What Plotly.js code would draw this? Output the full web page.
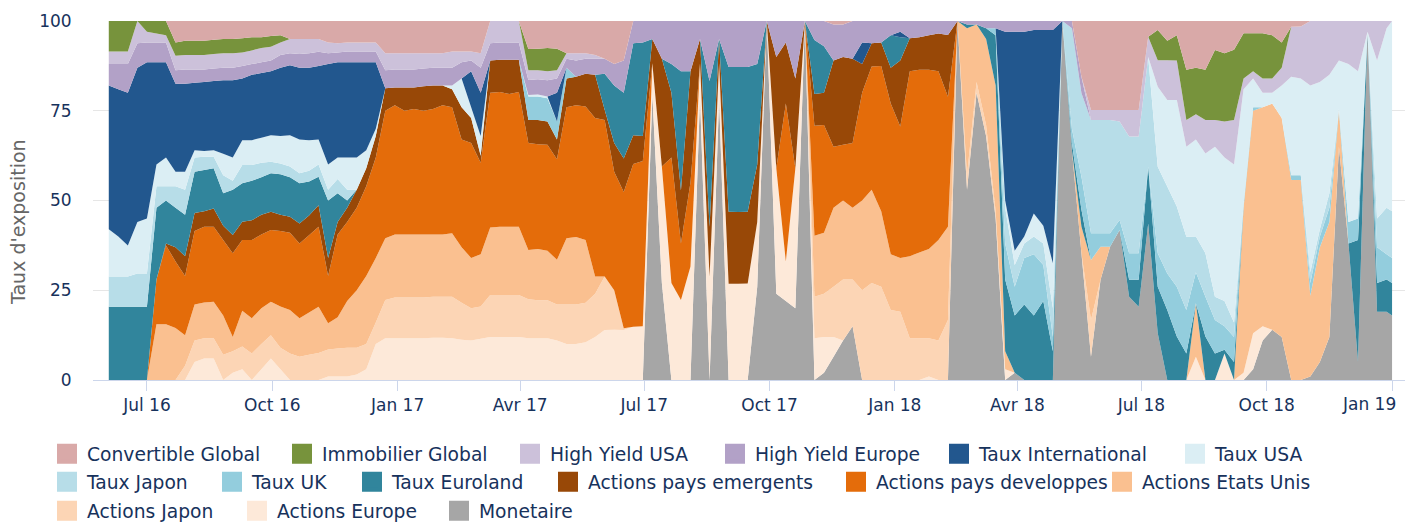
<!DOCTYPE html>
<html><head><meta charset="utf-8">
<script src="https://cdn.plot.ly/plotly-3.0.1.min.js"></script>
<style>html,body{margin:0;padding:0;background:#fff}#chart{width:1405px;height:522px}</style>
</head><body><div id="chart"></div>
<script>
const dates = ['2016-06-03','2016-06-10','2016-06-17','2016-06-24','2016-07-01','2016-07-08','2016-07-15','2016-07-22','2016-07-29','2016-08-05','2016-08-12','2016-08-19','2016-08-26','2016-09-02','2016-09-09','2016-09-16','2016-09-23','2016-09-30','2016-10-07','2016-10-14','2016-10-21','2016-10-28','2016-11-04','2016-11-11','2016-11-18','2016-11-25','2016-12-02','2016-12-09','2016-12-16','2016-12-23','2016-12-30',
'2017-01-06','2017-01-13','2017-01-20','2017-01-27','2017-02-03','2017-02-10','2017-02-17','2017-02-24','2017-03-03','2017-03-10','2017-03-17','2017-03-24','2017-03-31','2017-04-07','2017-04-14','2017-04-21','2017-04-28','2017-05-05','2017-05-12','2017-05-19','2017-05-26','2017-06-02','2017-06-09','2017-06-16','2017-06-23','2017-06-30','2017-07-07','2017-07-14','2017-07-21','2017-07-28','2017-08-04','2017-08-11','2017-08-18','2017-08-25','2017-09-01','2017-09-08','2017-09-15','2017-09-22','2017-09-29','2017-10-06','2017-10-13','2017-10-20','2017-10-27','2017-11-03','2017-11-10','2017-11-17','2017-11-24','2017-12-01','2017-12-08','2017-12-15','2017-12-22','2017-12-29',
'2018-01-05','2018-01-12','2018-01-19','2018-01-26','2018-02-02','2018-02-09','2018-02-16','2018-02-23','2018-03-02','2018-03-09','2018-03-16','2018-03-23','2018-03-30','2018-04-06','2018-04-13','2018-04-20','2018-04-27','2018-05-04','2018-05-11','2018-05-18','2018-05-25','2018-06-01','2018-06-08','2018-06-15','2018-06-22','2018-06-29','2018-07-06','2018-07-13','2018-07-20','2018-07-27','2018-08-03','2018-08-10','2018-08-17','2018-08-24','2018-08-31','2018-09-07','2018-09-14','2018-09-21','2018-09-28','2018-10-05','2018-10-12','2018-10-19','2018-10-26','2018-11-02','2018-11-09','2018-11-16','2018-11-23','2018-11-30','2018-12-07','2018-12-14','2018-12-21','2018-12-28','2019-01-01'];

const monetaire = [
0,0,0,0,0,0,0,0,0,0, 0,0,0,0,0,0,0,0,0,0, 0,0,0,0,0,0,0,0,0,0, 0,0,0,0,0,0,0,0,0,0,
0,0,0,0,0,0,0,0,0,0, 0,0,0,0,0,0,0,79.4,27,0, 0,0,79,0,78.5,0,0,0,26,100, 24,22,20,100,0,2,6.5,11,15,0,
0,0,0,0,0,0,0,0,0,100, 53,80,68,45,0,2,0,0,0,0, 100,64,35.3,6.5,27.9,37.1,41.8,23.2,20.4,43.6, 13,0,0,0,0,0,0,0,0,0,
3,11,14,12,0,0,1,5,12,65, 38,5,97,19,19,18];
const actionsEurope = [
0,0,0,0,0,0,0,0,0,5, 6,6,0,2,3,0,3,6,3,0, 0,0,0,1,1,1,1.5,3,10,11.6, 11.6,11.6,11.6,11.6,11.8,11.8,11.6,11.2,11,11.5,
12,12,12,12,11.6,11.6,11.6,11,10,10, 10.5,12,13.9,14,13.9,14.8,15,8.8,32.5,27, 22.3,31.6,9.2,28.8,9.7,26.8,26.8,26.9,18,0, 35,11,39,0,11.6,10,5.5,0,0,0,
0,0,0,0,0,0,1,0,0,0, 0,0,0,0,3,0,0,0,0,0, 0,0,0,0,0,0,0,0,0,0, 0,0,0,0,6.5,0,0,7.4,0,2,
10,4,0,0,0,0,0,0,0,0, 0,0,0,0,0,0];
const actionsJapon = [
0,0,0,0,0,0,0,0,4,6, 5.6,5.6,7,6,6.3,7.4,7,6.5,6,7.4, 6.5,7,7.5,7.5,7.8,8,7.5,7,6,10.7, 11.4,11.4,11.4,11.4,11.4,11.4,11.6,10.3,9,9,
11.7,11.7,11.7,11.7,10.9,10.6,10.6,10,11,11, 11,12,14.9,11,0.5,0,0,0,0,0, 0,0,0,0,0,0,0,0,0,0, 0,0,0,0,11.6,12,14,17,13,25,
27,26,19.5,19,11.6,11.6,10.6,11,16.7,0, 4,3,3,2,0,0,0,0,0,0, 0,0,0,10.2,0,0,0,0,0,0, 0,0,0,0,0,0,0,0,0,0,
0,0,0,0,0,0,0,0,0,0, 0,0,0,0,0,0];
const actionsEtatsUnis = [
0,0,0,0,0,15.5,15.5,14.5,8.5,10, 10,10.2,11,4,10,9.8,10,9.3,11.5,12.1, 10.7,11.8,12.9,7.3,8.7,13,16,19,18,17.2, 17.5,17.5,17.5,17.5,17.3,17.3,17.7,15.5,14,14.5,
18.8,19,19,19,13.7,14.3,13.8,12.5,18.5,18.8, 17.5,4.8,0,0,0,0,0,0,0,0, 0,0,0,0,0,0,0,0,0,0, 0,0,0,0,17,17,22,22,20,25,
26,21,15.5,15,22.9,23.9,24.9,28,26,0, 41,16,24,35,5,0,0,0,0,0, 0,0,7.4,16.7,9.2,0,0,0,0,0, 0,0,0,0,14.9,0,0,0,0,46,
62,61,63,61,55.7,55.7,22.5,32,32,10, 0,0,0,0,0,0];
const actionsPaysDeveloppes = [
0,0,0,0,0,12.5,22,18.5,16.5,20.5, 21.1,20.9,21,23.3,19.7,21.8,20.5,20,21,21.5, 20.8,21.5,22.3,13.2,23,22,23,25,28,35.5, 36,34.5,35,34.5,35,36,35.1,30,32,25.5,
37.5,37.5,37,37.5,29.8,29.2,29.5,28,36.5,36.7, 37.2,44.2,43.6,33,38,45.4,46,0,0,35, 15.7,23.4,0,0,0,0,0,0,0,0, 0,44,0,0,30.6,30,17,15.5,18,30,
34.3,40.5,42,36.6,51.5,50.9,49.9,47,36.2,0, 0,0,0,0,0,0,0,0,0,0, 0,0,0,0,0,0,0,0,0,0, 0,0,0,0,0,0,0,0,0,0,
0,0,0,0,0,0,0,0,0,0, 0,0,0,0,0,0];
const actionsPaysEmergents = [
0,0,0,0,0,0,0.5,4,5.5,5, 4.3,5.1,4,5.1,5.1,5.5,5.5,5.1,4.5,4.5, 5.6,5.5,6,5,3.5,4,5,5,6,6.3, 5,6.5,6,6.8,6.5,5.5,5,9,7,2,
9,9,9.5,9,6.4,6.7,6.5,5.5,8,8, 9.1,12,2.9,8,9.3,8,7,6.8,30,18, 14.8,31,6.8,13.9,6.8,20.1,20,20,16,0, 31,17,25,0,8.9,9,24,24.5,23.5,8,
6.5,6.5,10,18.4,9.2,9.1,9.6,10.5,17.2,0, 0,0,0,0,0,0,0,0,0,0, 0,0,0,0,0,0,0,0,0,0, 0,0,0,0,0,0,0,0,0,0,
0,0,0,0,0,0,0,0,0,0, 0,0,0,0,0,0];
const tauxEuroland = [
20.4,20.4,20.4,20.4,20.4,20,12,11,11.5,11.5, 11.5,11.2,9,12.6,10.7,11,10.5,10.7,11.3,11, 11.2,9.5,7.9,16,8,2,0,0,0,0, 0,0,0,0,0,0,0,0,0,0,
0,0,0,0,0,0,0,0,0,0, 0,0,10,16,18.3,25.6,26,0,0,8, 33.2,0,0,40.6,0,40.3,40.4,40.3,28,0, 0,0,0,0,15,13,0,0,0,0,
0,0,9,6.5,0,0,0,0,0,0, 1,0,3,14,20,16,21,18,22,8, 0,2,4.7,0,0,0,0,4.7,7.5,15.8, 13,19.5,12.1,7.4,0,12.1,7.4,1,5,0,
0,0,0,0,0,0,0,0,0,0, 0,34,0,8,9,9];
const tauxUK = [
0,0,0,0,0,0,0,0,0,0, 0,0,0,0,0,0,0,0,0,0, 0,0,0,0,0,0,0,0,0,0, 0,0,0,0,0,0,0,0,0,0,
0,0,0,0,6.6,6.6,6.5,5,3,0, 0,0,0,0,0,0,0,0,0,0, 0,0,0,0,0,0,0,0,0,0, 0,0,0,0,0,0,0,0,0,0,
0,0,0,0,0,0,0,0,0,0, 0,0,0,2,10,8,13,17,10,4, 0,4,9.2,7.5,3.8,3.8,2.8,7.4,7.4,0, 9.3,10.2,13.9,12.1,8.6,11.1,9.3,6.6,7,1,
1,0,0,0,1.3,1.3,3.5,3,4,0.5, 6,6,0,10,7,7];
const tauxJapon = [
8.4,8.4,8.4,9.3,9.3,6,4,6,7,4, 3.7,3.2,5,2.5,5.1,4.4,4,3.2,3,3, 2.8,3,3.4,3,4,3,0,0,0,0, 0,0,0,0,0,0,0,0,0,0,
0,0,0,0,0,0,0,0,0,0, 0,0,0,0,0,0,0,0,0,0, 0,0,0,0,0,0,0,0,0,0, 0,0,0,0,0,0,0,0,0,0,
0,0,0,0,0,0,0,0,0,0, 0,0,0,0,10,6,4,5,6,8, 0,28,23.3,31.5,31.5,31.5,27.4,32.5,32.5,30.6, 24.1,24.2,22.3,20.4,10,12.1,6.5,7,4,0,
0,0,0,0,0,0,3,2,4,0, 0,0,0,8,13,13];
const tauxUSA = [
13.2,11.2,8.7,14.3,15.3,6,8,4,5,2, 1.6,1.8,6,6.5,6.9,6.9,7,7.4,7.7,8.7, 9.4,8.5,7,7,6,9,9,5,2,0, 0,0,0,0,0,0,1,8,3,5.5,
0,0,0,0,0.4,0.5,0.5,0,0,0, 0,0,0,0,0,0,0,0,0,0, 0,0,0,0,0,0,0,0,0,0, 0,0,0,0,0,0,0,0,0,0,
0,0,0,0,0,0,0,0,0,0, 0,0,0,0,2,4,2,6.4,5,12.5, 0,0,0,0,0,0,0,0,0,0, 22.3,24.1,29.7,25.1,27,27.8,41.8,40,44,32,
8,4,3,9,27.5,27,52,41,33,13.5, 44,41,0,44,50,53];
const tauxInternational = [
40,41,42.5,43,43.5,28.5,26.5,24.5,24.5,18.8, 19.2,19.3,20.5,21.5,17.2,18.2,18,17.8,19,19.5, 20,20.2,20.5,28,26.5,26.5,26.5,24.5,18.5,0, 0,0,0,0,0,0,0,0,10,12,
0,0,0,0,0,0,0,8,0,0, 0,0,0,0,0,0,0,0,0,0, 0,0,0,0,0,0,0,0,0,0, 0,0,0,0,0,0,0,0,0,6,
0,0,0,1.5,0,0,0,0,0,0, 0,0,0,0,47,61,57,51.1,54.5,65, 0,0,0,0,0,0,0,0,0,0, 0,0,0,0,0,0,0,0,0,0,
0,0,0,0,0,0,0,0,0,0, 0,0,0,0,0,0];
const highYieldEurope = [
6,7,8,6.8,5.5,5.5,5.5,3.8,4,3.7, 3.5,3.5,3.5,3.5,3.5,3,3,3,3.5,3.3, 3.8,4,3.9,3,2.7,3,3,3,3,5, 5,5,5,5,5,5,5,4.5,3,7,
4.8,4.8,4.8,4.8,4.2,4.3,4.5,4,2.5,4.5, 4.2,4.5,4.2,6,9,6.2,6,5,10.5,12, 14,14,5,16.7,5,12.8,12.8,12.8,12,0, 10,6,16,0,5.3,7,10,9,10.5,6,
6.2,6,4,3,4.8,4.5,4,3.5,3.9,0, 1,1,2,2,3,3,3,2.5,2.5,2.5, 0,2,4.6,0,0,0,0,0,0,0, 0,0,0,0,0,0,0,0,0,0,
0,0,0,0,0,0,0,0,0,0, 0,0,0,0,0,0];
const highYieldUSA = [
3.5,3.5,3.5,6.2,3,2.5,2,4,4,4, 4,4,4,4,3.7,3.8,4,3.8,3.5,4, 4.2,4,3.6,3,2.6,2.5,2.5,2.5,2.5,4.7, 4.5,4.5,4.5,4.2,4,4,4.5,3,2.5,4,
6.2,6,6,6,2.7,2.5,2.5,2.3,1.5,2, 1.5,1,0,0,0,0,0,0,0,0, 0,0,0,0,0,0,0,0,0,0, 0,0,0,0,0,0,0,0,0,0,
0,0,0,0,0,0,0,0,0,0, 0,0,0,0,0,0,0,0,0,0, 0,0,0,2.8,2.8,2.8,3.2,7.4,7.4,5.6, 7.4,11.1,11,7.4,7,9.3,7.4,10,12.4,3,
2,4,4,5,13.9,14.5,18,17,15,11, 12,14,3,11,2,0];
const immobilierGlobal = [
8.5,8.5,8.5,0,3,3.5,4,3.7,4,4, 4,4,4,4,4,3.7,3,3,2,0, 0,0,0,0,0,0,0,0,0,0, 0,0,0,0,0,0,0,0,0,0,
0,0,0,0,5.9,6,6.5,6,0,0, 0,0,0,0,0,0,0,0,0,0, 0,0,0,0,0,0,0,0,0,0, 0,0,0,0,0,0,0,0,0,0,
0,0,0,0,0,0,0,0,0,0, 0,0,0,0,0,0,0,0,0,0, 0,0,0,0,0,0,0,0,0,0, 8.4,5.4,7,14,13,14,19.5,19,19.6,12.6,
10.6,12.6,12,7,0,0,0,0,0,0, 0,0,0,0,0,0];
const convertibleGlobal = [
0,0,0,0,0,0,0,6,5.5,5.5, 5.5,5.2,5,5,4.8,4.5,4.5,4.2,4,5, 5,5,5,6,6.2,6,6,6,6,9, 9,9,9,9,9,9,8.5,8.5,8.5,9,
0,0,0,0,7.8,7.7,7.5,7.7,9,9, 9,9.5,10.5,12,11,0,0,0,0,0, 0,0,0,0,0,0,0,0,0,0, 0,0,0,0,0,0,1,1,0,0,
0,0,0,0,0,0,0,0,0,0, 0,0,0,0,0,0,0,0,0,0, 0,0,15.5,24.8,24.8,24.8,24.8,24.8,24.8,4.4, 2.5,5.5,4,13.6,13,13.6,8.1,9,8,3.4,
3.4,3.4,4,6,1.6,1.5,0,0,0,0, 0,0,0,0,0,0];

const tickDates = ['2016-07-01','2016-10-01','2017-01-01','2017-04-01','2017-07-01','2017-10-01','2018-01-01','2018-04-01','2018-07-01','2018-10-01','2019-01-01'];
const tickLabels = ['Jul 16','Oct 16','Jan 17','Avr 17','Jul 17','Oct 17','Jan 18','Avr 18','Jul 18','Oct 18','Jan 19'];
const yTitle = "Taux d'exposition";

// bottom to top stacking order
const seriesNames = ['Monetaire','Actions Europe','Actions Japon','Actions Etats Unis','Actions pays developpes','Actions pays emergents','Taux Euroland','Taux UK','Taux Japon','Taux USA','Taux International','High Yield Europe','High Yield USA','Immobilier Global','Convertible Global'];
const seriesValues = [monetaire, actionsEurope, actionsJapon, actionsEtatsUnis, actionsPaysDeveloppes, actionsPaysEmergents, tauxEuroland, tauxUK, tauxJapon, tauxUSA, tauxInternational, highYieldEurope, highYieldUSA, immobilierGlobal, convertibleGlobal];
const seriesColors = ['#a6a6a6','#fde9d9','#fcd5b5','#fac090','#e46c0a','#984807','#31859c','#93cddd','#b7dde8','#dbeef4','#22578e','#b2a1c7','#ccc1da','#77933c','#d9a9a8'];

const bad = seriesValues.map((v,i)=>v.length!==dates.length ? seriesNames[i]+':'+v.length : null).filter(Boolean);
if (bad.length) throw new Error('Length mismatch ' + dates.length + ' ' + bad.join(', '));

// legend placement (swatch left px, row centre px), in legend display order
const legendOrder = ['Convertible Global','Immobilier Global','High Yield USA','High Yield Europe','Taux International','Taux USA','Taux Japon','Taux UK','Taux Euroland','Actions pays emergents','Actions pays developpes','Actions Etats Unis','Actions Japon','Actions Europe','Monetaire'];
const legendPx = [[57,454],[292,454],[520,454],[725,454],[949,454],[1185,454],[57,482],[222,482],[362,482],[558,482],[846,482],[1112,482],[57,511],[247,511],[449,511]];

const W = 1405, H = 522;
const ML = 93, MT = 21, PW = 1312, PH = 359;
const FONT = 'DejaVu Sans, Verdana, sans-serif';
const NAVY = '#17325c';

const traces = seriesNames.map((name, i) => ({
  type: 'scatter', mode: 'none', name: name, x: dates, y: seriesValues[i],
  stackgroup: 'one', fill: 'tonexty', fillcolor: seriesColors[i],
  showlegend: false, hoverinfo: 'skip'
}));

// the last tick label is drawn inside the chart edge (as in the original), the others by the axis
const lastIdx = tickLabels.length - 1;
const tickText = tickLabels.map((t, i) => i === lastIdx ? '' : t);

const layout = {
  width: W, height: H,
  margin: {l: ML, r: W - ML - PW, t: MT, b: H - MT - PH, autoexpand: false},
  paper_bgcolor: '#ffffff', plot_bgcolor: '#ffffff',
  font: {family: FONT, color: NAVY},
  hovermode: false,
  xaxis: {
    type: 'date', range: ['2016-05-22 10:00', '2019-01-10 12:00'], autorange: false,
    tickvals: tickDates, ticktext: tickText,
    ticks: 'outside', ticklen: 10, tickcolor: '#ccd6eb', tickwidth: 1,
    showline: true, linecolor: '#ccd6eb', linewidth: 1,
    showgrid: false, zeroline: false,
    tickfont: {family: FONT, size: 17, color: NAVY}
  },
  yaxis: {
    range: [0, 100], autorange: false, tickvals: [0, 25, 50, 75, 100],
    showgrid: true, gridcolor: '#e6e6e6', zeroline: false, showline: false,
    ticks: 'outside', ticklen: 17, tickcolor: 'rgba(0,0,0,0)',
    tickfont: {family: FONT, size: 17, color: NAVY}
  },
  annotations: [
    {text: tickLabels[lastIdx], xref: 'x', x: tickDates[lastIdx], xanchor: 'right', xshift: 6,
     yref: 'paper', y: 0, yanchor: 'top', yshift: -12, showarrow: false,
     font: {family: FONT, size: 17, color: NAVY}},
    {text: yTitle, xref: 'paper', x: (18 - ML) / PW, xanchor: 'center',
     yref: 'paper', y: (MT + PH - 222) / PH, yanchor: 'middle', textangle: -90, showarrow: false,
     font: {family: FONT, size: 19, color: '#666666'}}
  ]
};

legendOrder.forEach((name, k) => {
  const idx = seriesNames.indexOf(name);
  const key = k === 0 ? 'legend' : 'legend' + (k + 1);
  const [sx, sy] = legendPx[k];
  layout[key] = {
    xref: 'container', yref: 'container',
    x: (sx - 10) / W, y: 1 - sy / H, xanchor: 'left', yanchor: 'middle',
    orientation: 'v', bgcolor: 'rgba(0,0,0,0)', borderwidth: 0,
    font: {family: FONT, size: 18.7, color: NAVY},
    itemclick: false, itemdoubleclick: false
  };
  traces.push({
    type: 'scatter', mode: 'markers', name: name, x: ['2016-08-01'], y: [-50],
    legend: key, showlegend: true, hoverinfo: 'skip', cliponaxis: true,
    marker: {symbol: 'square', size: 16, color: seriesColors[idx], line: {color: seriesColors[idx], width: 4}}
  });
});

Plotly.newPlot('chart', traces, layout, {displayModeBar: false, staticPlot: true});
</script>
</body></html>
